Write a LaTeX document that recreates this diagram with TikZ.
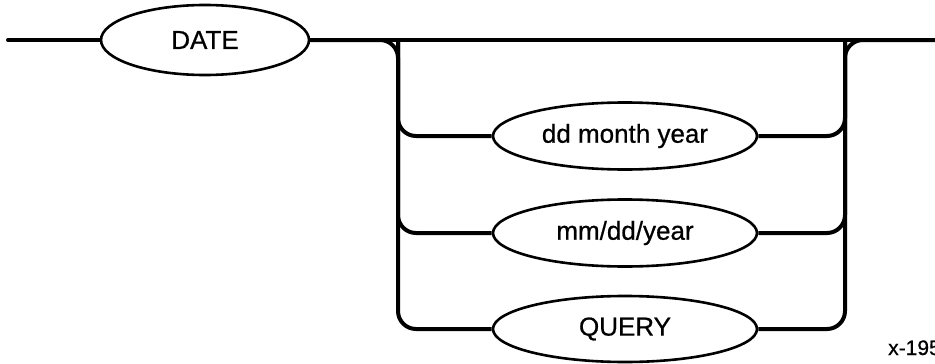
\documentclass[tikz,border=0pt]{standalone}
\usepackage{fontspec}
\setmainfont{Liberation Sans}
\newfontfamily\labfont{Liberation Sans}[FakeBold=0.7]
\usetikzlibrary{shapes.geometric}
\begin{document}
\begin{tikzpicture}[x=1pt,y=-1pt,
  term/.style={ellipse, draw, line width=2.6pt, inner sep=0pt,
    font=\labfont\fontsize{26}{30}\selectfont},
  rail/.style={line width=4pt, rounded corners=18pt}]
\useasboundingbox (0,0) rectangle (935,364);
\node[term, minimum width=208pt, minimum height=70pt] (date) at (205,40) {DATE};
\node[term, minimum width=264pt, minimum height=67pt] (dd) at (625,136) {dd month year};
\node[term, minimum width=264pt, minimum height=67pt] (mm) at (625,233) {mm/dd/year};
\node[term, minimum width=264pt, minimum height=66pt] (query) at (625,329) {QUERY};
\coordinate (start) at (8,40);
\coordinate (finish) at (935,40);
\coordinate (ltop) at (398,40);
\coordinate (rtop) at (845,40);
\draw[rail, line cap=round] (start) -- (date.west);
\draw[rail] (date.east) -- (finish);
\draw[rail] (date.east) -- (ltop) -- (ltop |- query.west) -- (query.west);
\draw[rail] (ltop) -- (ltop |- dd.west) -- (dd.west);
\draw[rail] (ltop) -- (ltop |- mm.west) -- (mm.west);
\draw[rail] (query.east) -- (rtop |- query.east) -- (rtop) -- (finish);
\draw[rail] (dd.east) -- (rtop |- dd.east) -- (rtop);
\draw[rail] (mm.east) -- (rtop |- mm.east) -- (rtop);
\node[anchor=base west, inner sep=0pt, font=\labfont\fontsize{21}{24}\selectfont] (code) at (888,355) {x-195};
\end{tikzpicture}
\end{document}
